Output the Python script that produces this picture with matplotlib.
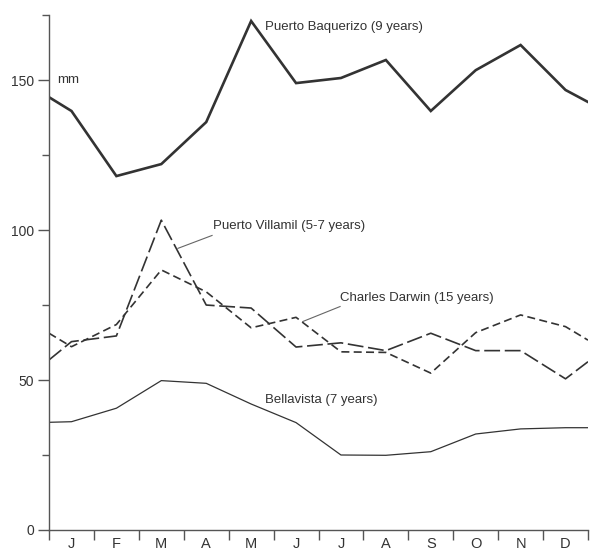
import numpy as np
import matplotlib
matplotlib.use("Agg")
import matplotlib.pyplot as plt

plt.rcParams['font.family'] = ['Liberation Sans', 'DejaVu Sans']

months = ['J', 'F', 'M', 'A', 'M', 'J', 'J', 'A', 'S', 'O', 'N', 'D']

# mean monthly rainfall (mm); first and last entries are the values at the year ends
baquerizo = [144.3, 139.7, 118.0, 122.0, 136.0, 169.7, 149.0, 150.7, 156.7, 139.7, 153.3, 161.7, 146.7, 142.7]
villamil = [56.7, 62.8, 64.7, 103.3, 75.0, 74.0, 61.0, 62.4, 59.8, 65.6, 59.8, 59.8, 50.4, 56.1]
darwin = [65.6, 61.1, 68.5, 86.7, 79.4, 67.4, 70.9, 59.4, 59.2, 52.3, 65.8, 71.7, 67.8, 63.3]
bellavista = [35.9, 36.1, 40.6, 49.8, 48.9, 42.0, 35.8, 25.0, 24.9, 26.1, 32.0, 33.7, 34.1, 34.1]

x = np.concatenate([[0], np.arange(12) + 0.5, [12]])

ink = '#333333'
axc = '#555555'

fig = plt.figure(figsize=(5.95, 5.5), dpi=100)
ax = fig.add_axes([0.0824, 0.0364, 0.9058, 0.9363])

ax.plot(x, baquerizo, color=ink, lw=1.9, solid_joinstyle='miter')
ax.plot(x, villamil, color=ink, lw=1.2, dashes=(9.5, 2.8))
ax.plot(x, darwin, color=ink, lw=1.2, dashes=(4.8, 2.6))
ax.plot(x, bellavista, color=ink, lw=0.9)

ax.set_xlim(0, 12)
ax.set_ylim(0, 171.7)

for s in ['top', 'right']:
    ax.spines[s].set_visible(False)
for s in ['left', 'bottom']:
    ax.spines[s].set_color(axc)
    ax.spines[s].set_linewidth(1.0)

# month boundaries as ticks, month names centred between them
ax.set_xticks(np.arange(13))
ax.set_xticklabels([])
ax.set_xticks(np.arange(12) + 0.5, minor=True)
ax.set_xticklabels(months, minor=True)
ax.tick_params(axis='x', which='major', direction='out', length=7, width=1, color=axc)
ax.tick_params(axis='x', which='minor', length=0, pad=5, labelsize=10.5, labelcolor=ink)

ax.set_yticks([0, 50, 100, 150])
ax.set_yticks([25, 75, 125, 171.7], minor=True)
ax.tick_params(axis='y', which='major', direction='out', length=8, width=1, color=axc,
               pad=3, labelsize=10, labelcolor=ink)
ax.tick_params(axis='y', which='minor', direction='out', length=5, width=1, color=axc)

fs = 9.5
ax.text(0.18, 150, 'mm', fontsize=fs, color=ink, va='center')
ax.text(4.81, 167.7, 'Puerto Baquerizo (9 years)', fontsize=fs, color=ink, va='center')
ax.text(3.65, 101.5, 'Puerto Villamil (5-7 years)', fontsize=fs, color=ink, va='center')
ax.plot([3.63, 2.87], [98.2, 93.9], color='#666666', lw=0.8)
ax.text(6.48, 77.5, 'Charles Darwin (15 years)', fontsize=fs, color=ink, va='center')
ax.plot([6.48, 5.65], [74.5, 69.5], color='#666666', lw=0.8)
ax.text(4.81, 43.4, 'Bellavista (7 years)', fontsize=fs, color=ink, va='center')

fig.savefig('out.png', dpi=100)
